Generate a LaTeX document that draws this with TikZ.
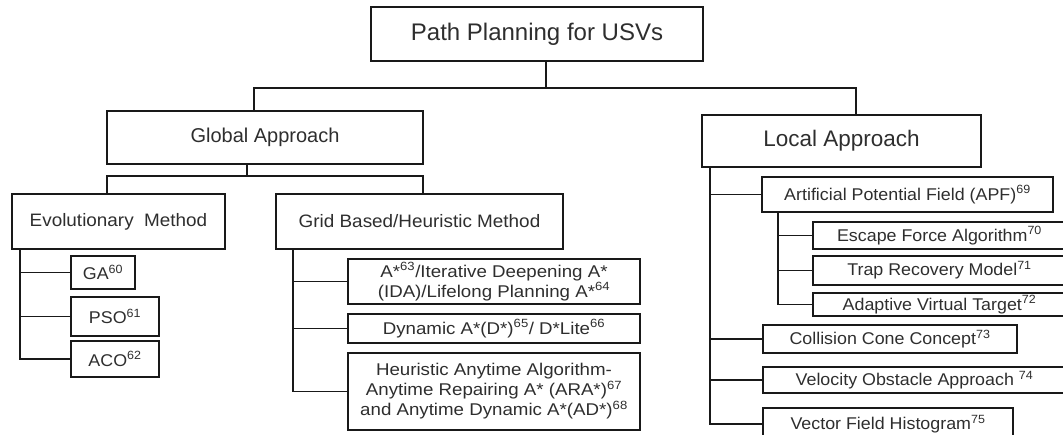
\documentclass[tikz,border=0pt]{standalone}
\usepackage{fontspec}
\setmainfont{Liberation Sans}
\newfontfamily\widefont{Liberation Sans}[FakeStretch=1.1]
\newfontfamily\semifont{Liberation Sans}[FakeStretch=1.05]
\usetikzlibrary{positioning,calc}
\tikzset{
	box/.style={draw=black!90,line width=2pt,rectangle,inner sep=0pt,text=black!82,align=center},
	link/.style={draw=black!90,line width=1.7pt},
	leaf/.style={box,font=\semifont\fontsize{17}{20}\selectfont},
	gridleaf/.style={box,font=\widefont\fontsize{17}{20}\selectfont},
}
\newcommand{\rf}[1]{\textsuperscript{#1}}
\begin{document}
\begin{tikzpicture}[x=1pt,y=-1pt]
	\useasboundingbox (0,0) rectangle (1063,434);
	\node[box,minimum width=332,minimum height=54,font=\fontsize{24}{28}\selectfont] (root) at (537,34) {Path Planning for USVs};
	\node[box,minimum width=316,minimum height=53,font=\fontsize{20}{24}\selectfont] (global) at (265,137.5) {Global Approach};
	\node[box,minimum width=279,minimum height=52,font=\fontsize{22.5}{26}\selectfont] (local) at (841.5,141) {Local Approach};
	\node[box,minimum width=213,minimum height=55,font=\semifont\fontsize{18}{22}\selectfont] (evo) at (118.5,221.5) {Evolutionary\ \ Method};
	\node[box,minimum width=287,minimum height=55,font=\semifont\fontsize{18}{22}\selectfont] (grid) at (419.5,221.5) {Grid Based/Heuristic Method};
	\node[leaf,minimum width=64,minimum height=33] (ga) at (103,272.5) {GA\rf{60}};
	\node[leaf,minimum width=88,minimum height=39] (pso) at (115,316.5) {PSO\rf{61}};
	\node[leaf,minimum width=88,minimum height=36] (aco) at (115,359) {ACO\rf{62}};
	\node[gridleaf,minimum width=292,minimum height=45] (astar) at (494,281.5) {A*\rf{63}/Iterative Deepening A*\\(IDA)/Lifelong Planning A*\rf{64}};
	\node[gridleaf,minimum width=292,minimum height=29] (dstar) at (494,328.5) {Dynamic A*(D*)\rf{65}/ D*Lite\rf{66}};
	\node[gridleaf,minimum width=292,minimum height=77] (anytime) at (494,391.5) {Heuristic Anytime Algorithm-\\Anytime Repairing A* (ARA*)\rf{67}\\and Anytime Dynamic A*(AD*)\rf{68}};
	\node[leaf,minimum width=291,minimum height=35] (apf) at (907.5,194.5) {Artificial Potential Field (APF)\rf{69}};
	\node[leaf,minimum width=253,minimum height=27] (escape) at (939.5,235.5) {Escape Force Algorithm\rf{70}};
	\node[leaf,minimum width=253,minimum height=29] (trap) at (939.5,270.5) {Trap Recovery Model\rf{71}};
	\node[leaf,minimum width=253,minimum height=23] (adaptive) at (939.5,304.5) {Adaptive Virtual Target\rf{72}};
	\node[leaf,minimum width=254,minimum height=28] (collision) at (890,339) {Collision Cone Concept\rf{73}};
	\node[leaf,minimum width=303,minimum height=26] (velocity) at (914.5,380) {Velocity Obstacle Approach \rf{74}};
	\node[leaf,minimum width=250,minimum height=32] (vector) at (888,424) {Vector Field Histogram\rf{75}};

	\coordinate (rj) at (546,88); \coordinate (gj) at (254,88); \coordinate (lj) at (856,88);
	\draw[link] (root.south -| rj) -- (rj);
	\draw[link] (global.north -| gj) -- (gj) -- (lj) -- (local.north -| lj);
	\coordinate (gb) at (247,176); \coordinate (eb) at (107,176); \coordinate (hb) at (423,176);
	\draw[link] (global.south -| gb) -- (gb);
	\draw[link] (evo.north -| eb) -- (eb) -- (hb) -- (grid.north -| hb);

	\coordinate (et) at (20,0);
	\draw[link] (evo.south -| et) |- (aco.west);
	\draw[link] (ga.west -| et) -- (ga.west);
	\draw[link] (pso.west -| et) -- (pso.west);

	\coordinate (ht) at (293,0);
	\draw[link] (grid.south -| ht) |- (anytime.west);
	\draw[link] (astar.west -| ht) -- (astar.west);
	\draw[link] (dstar.west -| ht) -- (dstar.west);

	\coordinate (lt) at (710,0);
	\draw[link] (local.south -| lt) |- (vector.west);
	\draw[link] (apf.west -| lt) -- (apf.west);
	\draw[link] (collision.west -| lt) -- (collision.west);
	\draw[link] (velocity.west -| lt) -- (velocity.west);

	\coordinate (pt) at (778,0);
	\draw[link] (apf.south -| pt) |- (adaptive.west);
	\draw[link] (escape.west -| pt) -- (escape.west);
	\draw[link] (trap.west -| pt) -- (trap.west);
\end{tikzpicture}
\end{document}
